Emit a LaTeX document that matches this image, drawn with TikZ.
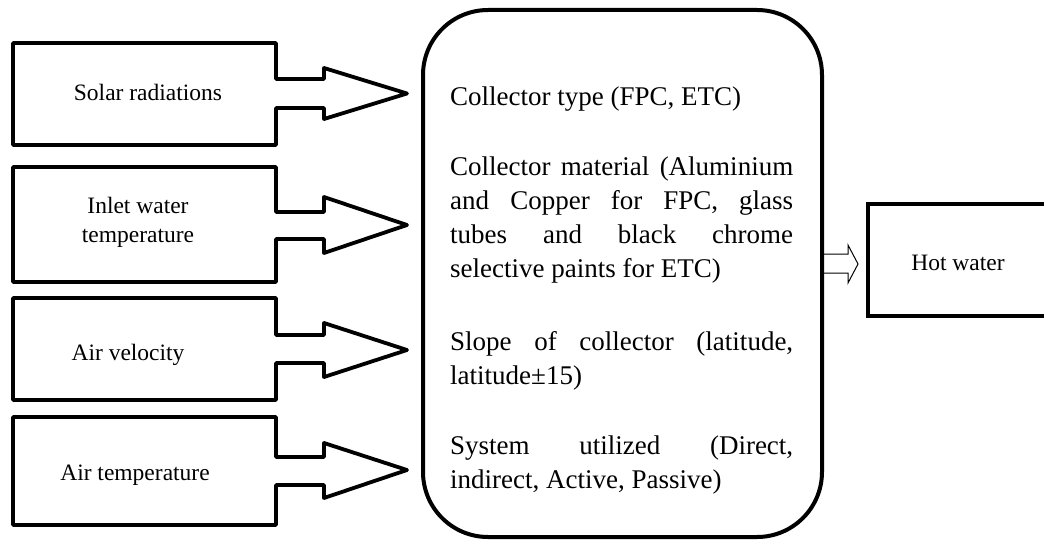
\documentclass[tikz,border=0pt]{standalone}
\usepackage{fontspec}
\setmainfont{Liberation Serif}
\begin{document}
\begin{tikzpicture}[x=1pt,y=-1pt,
  outline/.style={draw, line width=3.8pt, line join=round},
  lab/.style={font=\fontsize{23.5}{29}\selectfont, align=center, inner sep=0pt},
  mainbox/.style={draw, line width=4pt, rounded corners=65pt, inner sep=0pt},
  hollow/.style={draw, line width=1pt, line join=miter}
]
\useasboundingbox (0,0) rectangle (1044,540);

% input boxes with their block arrows
\draw[outline] (13,43) -- (276,43) -- (276,79) -- (324,79) -- (324,68) -- (407,93.5) coordinate (t1)
  -- (324,119) -- (324,108) -- (276,108) -- (276,145) -- (13,145) -- cycle;
\draw[outline] (13,167) -- (276,167) -- (276,212) -- (324,212) -- (324,197) -- (407,225) coordinate (t2)
  -- (324,253) -- (324,239) -- (276,239) -- (276,282) -- (13,282) -- cycle;
\draw[outline] (13,298) -- (276,298) -- (276,335) -- (324,335) -- (324,323) -- (407,350) coordinate (t3)
  -- (324,377) -- (324,363) -- (276,363) -- (276,400) -- (13,400) -- cycle;
\draw[outline] (13,417) -- (276,417) -- (276,457) -- (324,457) -- (324,443) -- (407,470) coordinate (t4)
  -- (324,498) -- (324,485) -- (276,485) -- (276,525) -- (13,525) -- cycle;

\node[lab, anchor=base] (sr) at (148,101) {Solar radiations};
\node[lab] (iw) at (138,222) {Inlet water\\temperature};
\node[lab, anchor=base] (av) at (128,360) {Air velocity};
\node[lab, anchor=base] (at) at (135,480) {Air temperature};

% main rounded box
\node[mainbox, minimum width=399pt, minimum height=527pt] (main) at (622.5,273.5) {};
\node[anchor=north west, inner sep=0pt, text width=343pt, align=justify,
      font=\fontsize{27}{34}\selectfont] (txt) at (450,85) {%
\hyphenpenalty=10000\rule{0pt}{20pt}Collector type (FPC, ETC)\par\vspace{36pt}
Collector material (Aluminium\linebreak and Copper for FPC, glass\linebreak tubes and black chrome\linebreak selective paints for ETC)\par\vspace{39pt}
Slope of collector (latitude,\linebreak latitude±15)\par\vspace{36pt}
System utilized (Direct,\linebreak indirect, Active, Passive)\par};

% output box
\node[draw, line width=4.5pt, minimum width=180pt, minimum height=112pt, inner sep=0pt] (hw) at (958,260) {};
\node[lab, anchor=base] (hwt) at (958,270) {Hot water};

% hollow output arrow
\draw[hollow] (main.east |- 0,254) -- (848,254) -- (848,245) -- (858,264) -- (848,283) -- (848,273) -- (main.east |- 0,273);
\end{tikzpicture}
\end{document}
